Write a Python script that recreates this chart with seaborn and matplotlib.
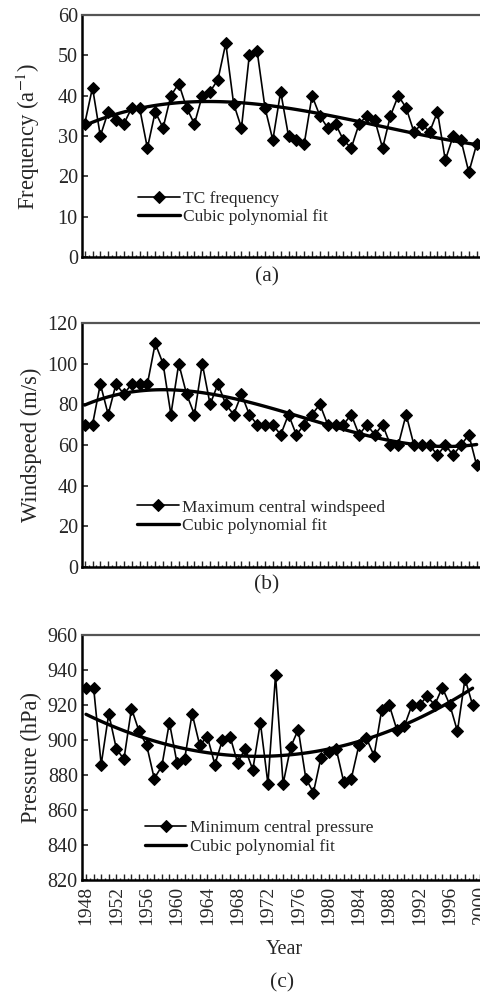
import matplotlib
matplotlib.use("Agg")
import matplotlib.pyplot as plt
from matplotlib.ticker import MultipleLocator, FuncFormatter
import numpy as np
import seaborn as sns

# values
years_ab = np.arange(1948, 1999)
years_c = np.arange(1948, 2000)

tc_freq = [33, 42, 30, 36, 34, 33, 37, 37, 27, 36, 32, 40, 43, 37, 33, 40, 41, 44, 53, 38,
           32, 50, 51, 37, 29, 41, 30, 29, 28, 40, 35, 32, 33, 29, 27, 33, 35, 34, 27, 35,
           40, 37, 31, 33, 31, 36, 24, 30, 29, 21, 28]
max_wind = [70, 70, 90, 75, 90, 85, 90, 90, 90, 110, 100, 75, 100, 85, 75, 100, 80, 90, 80, 75,
            85, 75, 70, 70, 70, 65, 75, 65, 70, 75, 80, 70, 70, 70, 75, 65, 70, 65, 70, 60,
            60, 75, 60, 60, 60, 55, 60, 55, 60, 65, 50]
min_pres = [930, 930, 886, 915, 895, 889, 918, 905, 897, 878, 885, 910, 887, 889, 915, 897, 902, 886, 900, 902,
            887, 895, 883, 910, 875, 937, 875, 896, 906, 878, 870, 890, 893, 895, 876, 878, 897, 901, 891, 917,
            920, 906, 908, 920, 920, 925, 920, 930, 920, 905, 935, 920]

sns.set_style("white")
plt.rcParams["font.family"] = ["Liberation Serif", "DejaVu Serif"]
plt.rcParams["mathtext.fontset"] = "stix"

W, H = 480, 994
fig = plt.figure(figsize=(W / 100, H / 100), dpi=100)


def px_axes(top, bottom, left=82, right=490):
    # right edge lies past the figure, so the right spine is cut off like in the scan
    return fig.add_axes([left / W, (H - bottom) / H, (right - left) / W, (bottom - top) / H])


def draw_panel(ax, years, values, label, ylabel, ylim, ystep, xlim, leg_anchor, tag, tag_xy):
    sns.lineplot(x=years, y=values, marker="D", markersize=6.5, color="black", linewidth=1.2,
                 markeredgecolor="black", label=label, ax=ax)
    sns.regplot(x=years, y=values, order=3, ci=None, scatter=False, color="black",
                label="Cubic polynomial fit", line_kws={"lw": 2.4}, ax=ax)
    ax.set_xlim(*xlim)
    ax.set_ylim(*ylim)
    ax.yaxis.set_major_locator(MultipleLocator(ystep))
    ax.xaxis.set_major_locator(MultipleLocator(1))
    ax.xaxis.set_minor_locator(MultipleLocator(0.5))
    ax.tick_params(axis="y", direction="in", length=4, width=1.2, left=True, labelsize=14.5, pad=3)
    ax.tick_params(axis="x", which="major", direction="in", length=4, width=1, bottom=True)
    ax.tick_params(axis="x", which="minor", direction="in", length=1.5, width=1, bottom=True)
    ax.set_ylabel(ylabel, fontsize=16.3)
    ax.yaxis.set_label_coords(-0.098, 0.5)
    ax.set_xlabel("")
    for s in ["left", "bottom"]:
        ax.spines[s].set_color("black")
        ax.spines[s].set_linewidth(1.8)
    ax.spines["top"].set_color("#555555")
    ax.spines["top"].set_linewidth(1.6)
    ax.spines["right"].set_visible(False)
    h, l = ax.get_legend_handles_labels()
    ax.legend(h, l, loc="upper left", bbox_to_anchor=leg_anchor, frameon=False, fontsize=12.5,
              borderpad=0, borderaxespad=0, handlelength=2.4, handletextpad=0.2,
              labelspacing=0.15, numpoints=1)
    ax.text(tag_xy[0], tag_xy[1], tag, transform=ax.transAxes, ha="center", va="center", fontsize=15.5)


ax_a = px_axes(15, 257)
ax_b = px_axes(323, 567)
ax_c = px_axes(635, 880)

draw_panel(ax_a, years_ab, tc_freq, "TC frequency", r"Frequency (a$^{-1}$)", (0, 60), 10,
           (1947.66, 1999.7), (0.137, 0.275), "(a)", (0.453, -0.083))
draw_panel(ax_b, years_ab, max_wind, "Maximum central windspeed", "Windspeed (m/s)", (0, 120), 20,
           (1947.66, 1999.7), (0.135, 0.277), "(b)", (0.453, -0.075))
draw_panel(ax_c, years_c, min_pres, "Minimum central pressure", "Pressure (hPa)", (820, 960), 20,
           (1947.47, 1947.47 + 408 / 7.58), (0.154, 0.245), "(c)", (0.49, -0.42))

for ax in (ax_a, ax_b):
    ax.tick_params(axis="x", labelbottom=False)

ax_c.xaxis.set_major_formatter(FuncFormatter(lambda v, p: f"{int(round(v))}" if int(round(v)) % 4 == 0 else ""))
ax_c.tick_params(axis="x", labelbottom=True, labelrotation=90, labelsize=14, pad=4)
ax_c.set_xlabel("Year", fontsize=14.5)
ax_c.xaxis.set_label_coords(0.495, -0.245)

fig.savefig("out.png", dpi=100)
